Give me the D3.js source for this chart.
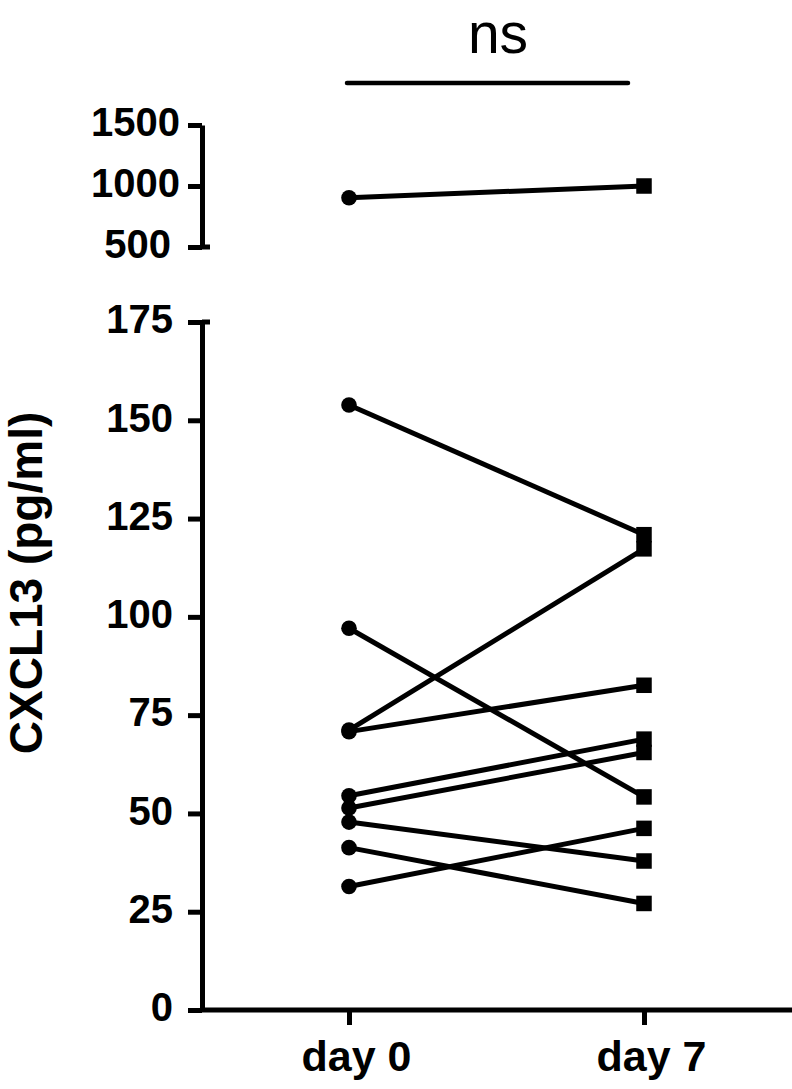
<!DOCTYPE html>
<html>
<head>
<meta charset="utf-8">
<script src="https://d3js.org/d3.v7.min.js"></script>
<style>
  body { margin: 0; background: #fff; }
  svg { display: block; font-family: "Liberation Sans", Arial, sans-serif; }
  .axis path, .axis line { stroke: #000; stroke-width: 5; }
  .axis text { font-size: 40px; font-weight: bold; fill: #000; }
  .xaxis text { font-size: 43px; }
</style>
</head>
<body>
<svg id="chart" width="792" height="1089"></svg>
<script>
// paired CXCL13 values, one entry per subject
const days = ["day 0", "day 7"];
const day0 = [904, 153.9, 97.1, 71.2, 70.8, 54.5, 51.4, 47.8, 41.3, 31.4];
const day7 = [1000, 120.9, 54.2, 117.3, 82.6, 68.9, 65.5, 37.9, 27.1, 46.2];
const lowTicks = [0, 25, 50, 75, 100, 125, 150, 175];
const highTicks = [500, 1000, 1500];
const sigLabel = "ns";

const svg = d3.select("#chart");
const axisX = 202;

const x = d3.scalePoint().domain(days).range([349, 644]);
const yLow = d3.scaleLinear().domain([0, 175]).range([1010, 322]);
const yHigh = d3.scaleLinear().domain([500, 1500]).range([247, 125]);
const y = v => v >= 500 ? yHigh(v) : yLow(v);

// lower y segment
const gLow = svg.append("g")
  .attr("class", "axis")
  .attr("transform", `translate(${axisX},0)`)
  .call(d3.axisLeft(yLow).tickValues(lowTicks).tickFormat(d3.format("d"))
    .tickSize(14).tickSizeOuter(0).tickPadding(15));
gLow.selectAll("text").attr("dy", "0.27em");

// upper y segment
const gHigh = svg.append("g")
  .attr("class", "axis")
  .attr("transform", `translate(${axisX},0)`)
  .call(d3.axisLeft(yHigh).tickValues(highTicks).tickFormat(d3.format("d"))
    .tickSize(14).tickSizeOuter(0));
gHigh.selectAll("text")
  .attr("dy", "0.27em")
  .attr("x", d => d >= 1000 ? -22 : -31);

// little feet at the break ends
[yLow(175), yHigh(500)].forEach(yy => {
  svg.append("line")
    .attr("x1", axisX).attr("x2", axisX + 8)
    .attr("y1", yy).attr("y2", yy)
    .attr("stroke", "#000").attr("stroke-width", 5);
});

// x axis
const gx = svg.append("g")
  .attr("class", "axis xaxis")
  .attr("transform", `translate(0,${yLow(0)})`)
  .call(d3.axisBottom(x).tickSize(15).tickSizeOuter(0).tickPadding(14));
gx.select(".domain").attr("d", `M${axisX},0H792`);
gx.selectAll("text").attr("dx", 7).attr("dy", "0.75em");

// y title
svg.append("text")
  .attr("transform", "translate(42,583) rotate(-90)")
  .attr("text-anchor", "middle")
  .style("font-size", "46px")
  .style("font-weight", "bold")
  .text("CXCL13 (pg/ml)");

// paired lines
const pairs = day0.map((v, i) => ({ a: v, b: day7[i] }));
svg.selectAll(".pair")
  .data(pairs)
  .enter().append("line")
  .attr("x1", x(days[0])).attr("y1", d => y(d.a))
  .attr("x2", x(days[1])).attr("y2", d => y(d.b))
  .attr("stroke", "#000").attr("stroke-width", 5);

svg.selectAll(".dot0")
  .data(day0)
  .enter().append("circle")
  .attr("cx", x(days[0])).attr("cy", d => y(d))
  .attr("r", 7.8).attr("fill", "#000");

const sq = 15.5;
svg.selectAll(".dot7")
  .data(day7)
  .enter().append("rect")
  .attr("x", x(days[1]) - sq / 2).attr("y", d => y(d) - sq / 2)
  .attr("width", sq).attr("height", sq).attr("fill", "#000");

// significance bar
svg.append("line")
  .attr("x1", 347).attr("x2", 628).attr("y1", 83).attr("y2", 83)
  .attr("stroke", "#000").attr("stroke-width", 4.5).attr("stroke-linecap", "round");
svg.append("text")
  .attr("x", 498).attr("y", 53)
  .attr("text-anchor", "middle")
  .style("font-size", "57px")
  .text(sigLabel);
</script>
</body>
</html>
